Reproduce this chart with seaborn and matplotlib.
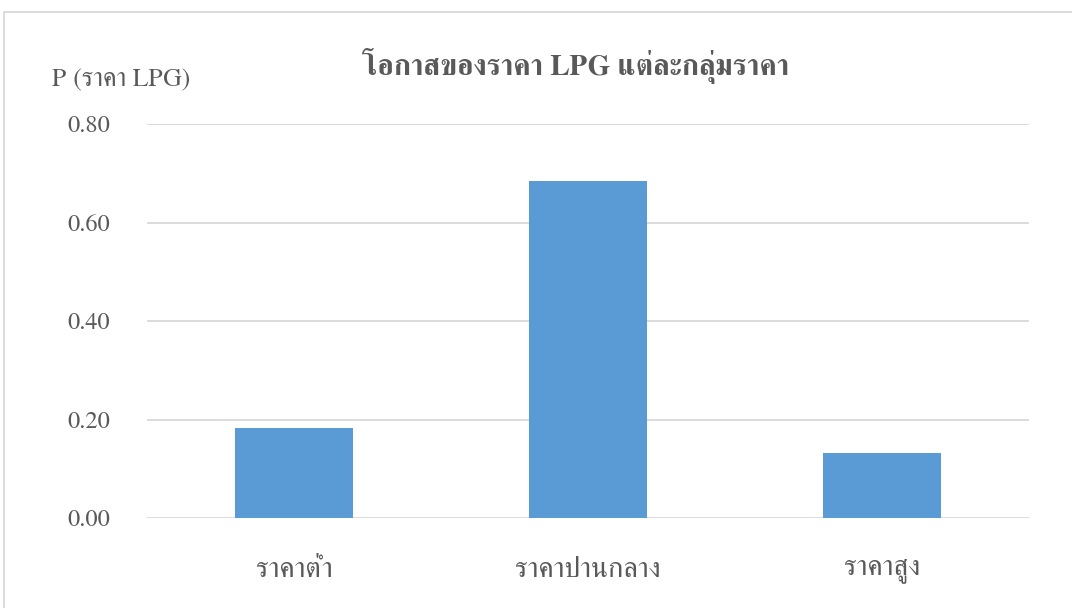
import matplotlib
matplotlib.use("Agg")
import matplotlib.pyplot as plt
from matplotlib.patches import Rectangle
import seaborn as sns
import pandas as pd

# Probability of each LPG price group
categories = ["ราคาต่ำ", "ราคาปานกลาง", "ราคาสูง"]
probabilities = [0.182, 0.685, 0.132]
y_ticks = [0.0, 0.2, 0.4, 0.6, 0.8]
y_tick_labels = ["0.00", "0.20", "0.40", "0.60", "0.80"]

title_text = "โอกาสของราคา LPG แต่ละกลุ่มราคา"
y_label_text = "P (ราคา LPG)"

sns.set_theme(style="white")
plt.rcParams["font.family"] = ["FreeSerif", "DejaVu Serif"]

TEXT = "#595959"
GRID = "#d9d9d9"
BAR = "#5b9bd5"

W, H = 1072, 608
fig = plt.figure(figsize=(W / 100, H / 100), dpi=100)
fig.patch.set_facecolor("white")

# chart border, clipped at the right and bottom edges
fig.patches.append(Rectangle((3.5 / W, -0.1), 1.2, 1 - 11.5 / H + 0.1,
                             transform=fig.transFigure, fill=False,
                             edgecolor=GRID, linewidth=1.3))

ax = fig.add_axes([147 / W, 1 - 518 / H, (1029 - 147) / W, (518 - 124) / H])

df = pd.DataFrame({"group": categories, "p": probabilities})
sns.barplot(data=df, x="group", y="p", ax=ax, color=BAR, width=0.4,
            saturation=1, edgecolor="none", zorder=3)

ax.set_ylim(0, 0.8)
ax.set_xlim(-0.5, 2.5)
ax.set_yticks(y_ticks)
ax.set_yticklabels(y_tick_labels)
ax.yaxis.grid(True, color=GRID, linewidth=1.3, zorder=0)
ax.set_axisbelow(True)
for s in ax.spines.values():
    s.set_visible(False)
ax.tick_params(axis="both", length=0, colors=TEXT)
ax.tick_params(axis="y", pad=26.5, labelsize=17.5)
ax.tick_params(axis="x", pad=29, labelsize=20.5)
ax.set_xlabel("")
ax.set_ylabel("")

fig.text(576 / W, 1 - 66 / H, title_text, ha="center", va="center",
         fontsize=21, fontweight="bold", color=TEXT)
fig.text(52 / W, 1 - 80 / H, y_label_text, ha="left", va="center",
         fontsize=18.5, color=TEXT)

fig.savefig("out.png", dpi=100, facecolor="white")
